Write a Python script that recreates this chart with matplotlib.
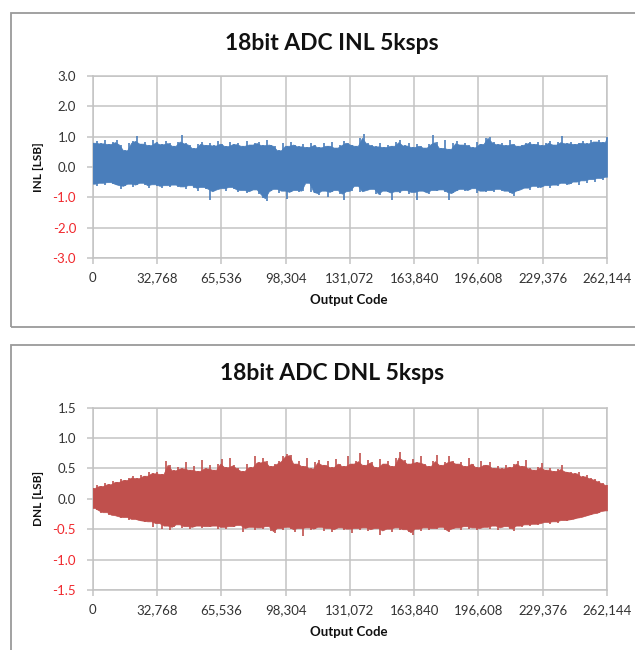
import numpy as np
import matplotlib
matplotlib.use("Agg")
import matplotlib.pyplot as plt
from matplotlib.patches import Rectangle
from matplotlib.ticker import FuncFormatter

inl_upper = [
    0.80, 0.85, 0.78, 0.90, 0.76, 0.82, 0.88, 0.74, 0.55, 0.80, 0.86, 1.02, 0.77, 0.84, 0.72, 0.88,
    0.81, 0.75, 0.86, 0.79, 0.70, 0.84, 1.07, 0.78, 0.74, 0.62, 0.76, 0.82, 0.73, 0.80, 0.71, 0.86,
    0.77, 0.69, 0.84, 0.75, 0.80, 0.70, 0.86, 0.74, 0.79, 0.83, 0.72, 0.88, 0.74, 0.70, 0.55, 0.78,
    0.70, 0.82, 0.74, 0.68, 0.76, 0.66, 0.80, 0.72, 0.65, 0.78, 0.70, 0.84, 0.64, 0.73, 0.86, 0.80,
    0.74, 0.70, 0.96, 1.10, 0.78, 0.72, 0.68, 0.80, 0.66, 0.74, 0.70, 0.82, 0.88, 0.71, 0.78, 0.66,
    0.75, 0.70, 0.64, 0.76, 1.07, 0.82, 0.63, 0.90, 0.60, 0.78, 0.85, 0.74, 0.80, 0.72, 0.65, 0.84,
    0.76, 0.96, 1.00, 0.82, 0.75, 0.78, 0.72, 0.88, 0.76, 0.70, 0.74, 0.79, 0.82, 0.76, 0.84, 0.72,
    0.80, 0.86, 0.74, 0.82, 1.02, 0.78, 0.84, 0.76, 0.80, 0.86, 0.78, 0.88, 0.84, 0.90, 0.82, 1.00,
]
inl_lower = [
    -0.55, -0.64, -0.52, -0.58, -0.50, -0.56, -0.60, -0.73, -0.62, -0.55, -0.66, -0.58, -0.52, -0.60, -0.68, -0.57,
    -0.62, -0.70, -0.60, -0.66, -0.58, -0.65, -0.64, -0.72, -0.60, -0.68, -0.80, -0.66, -0.72, -1.08, -0.80, -0.74,
    -0.70, -0.78, -0.66, -0.74, -0.84, -0.76, -0.86, -0.80, -0.74, -0.90, -1.03, -1.13, -0.80, -0.72, -0.86, -0.78,
    -1.06, -0.82, -0.76, -0.84, -0.78, -0.52, -0.82, -0.86, -0.92, -0.78, -1.00, -0.82, -0.76, -0.88, -1.10, -0.80,
    -0.78, -0.62, -0.84, -0.80, -0.76, -0.72, -0.88, -0.92, -0.78, -0.84, -1.08, -0.80, -0.86, -0.76, -0.88, -0.82,
    -1.08, -0.78, -0.84, -0.90, -0.76, -0.80, -0.74, -0.82, -1.08, -0.86, -0.78, -0.72, -0.80, -0.76, -0.70, -0.86,
    -0.78, -0.82, -0.76, -0.84, -0.72, -0.80, -0.78, -0.86, -0.97, -0.78, -0.74, -0.68, -0.76, -0.62, -0.70, -0.66,
    -0.60, -0.68, -0.58, -0.64, -0.52, -0.60, -0.55, -0.48, -0.58, -0.44, -0.52, -0.40, -0.48, -0.36, -0.42, -0.32,
]
dnl_upper = [
    0.18, 0.22, 0.21, 0.26, 0.24, 0.29, 0.28, 0.33, 0.31, 0.35, 0.37, 0.34, 0.40, 0.38, 0.45, 0.42,
    0.44, 0.41, 0.62, 0.56, 0.47, 0.52, 0.50, 0.60, 0.48, 0.54, 0.46, 0.64, 0.50, 0.56, 0.48, 0.58,
    0.66, 0.52, 0.67, 0.55, 0.50, 0.46, 0.58, 0.52, 0.70, 0.60, 0.68, 0.62, 0.54, 0.58, 0.62, 0.70,
    0.73, 0.72, 0.58, 0.62, 0.54, 0.67, 0.50, 0.60, 0.64, 0.56, 0.62, 0.52, 0.66, 0.58, 0.54, 0.70,
    0.58, 0.62, 0.75, 0.56, 0.64, 0.60, 0.52, 0.66, 0.58, 0.62, 0.54, 0.68, 0.77, 0.64, 0.58, 0.66,
    0.60, 0.71, 0.58, 0.54, 0.62, 0.72, 0.56, 0.60, 0.71, 0.62, 0.58, 0.60, 0.54, 0.67, 0.58, 0.52,
    0.63, 0.56, 0.60, 0.51, 0.54, 0.50, 0.56, 0.52, 0.58, 0.62, 0.54, 0.64, 0.50, 0.48, 0.52, 0.59,
    0.48, 0.50, 0.46, 0.49, 0.55, 0.45, 0.44, 0.42, 0.44, 0.37, 0.40, 0.34, 0.32, 0.29, 0.26, 0.23,
]
dnl_lower = [
    -0.15, -0.19, -0.23, -0.22, -0.26, -0.27, -0.29, -0.31, -0.30, -0.34, -0.33, -0.35, -0.36, -0.38, -0.37, -0.46,
    -0.40, -0.50, -0.44, -0.51, -0.46, -0.42, -0.48, -0.45, -0.50, -0.46, -0.44, -0.48, -0.45, -0.47, -0.44, -0.49,
    -0.46, -0.50, -0.45, -0.47, -0.43, -0.55, -0.48, -0.46, -0.52, -0.47, -0.49, -0.45, -0.53, -0.57, -0.48, -0.51,
    -0.46, -0.50, -0.54, -0.48, -0.61, -0.47, -0.52, -0.49, -0.46, -0.53, -0.48, -0.55, -0.50, -0.47, -0.52, -0.49,
    -0.56, -0.48, -0.51, -0.47, -0.53, -0.50, -0.48, -0.60, -0.52, -0.49, -0.54, -0.47, -0.52, -0.50, -0.55, -0.60,
    -0.49, -0.53, -0.47, -0.51, -0.48, -0.50, -0.46, -0.52, -0.55, -0.49, -0.47, -0.51, -0.45, -0.50, -0.47, -0.52,
    -0.48, -0.46, -0.50, -0.44, -0.51, -0.47, -0.45, -0.49, -0.53, -0.44, -0.46, -0.42, -0.45, -0.41, -0.43, -0.40,
    -0.38, -0.41, -0.37, -0.39, -0.35, -0.36, -0.34, -0.33, -0.31, -0.30, -0.28, -0.26, -0.24, -0.23, -0.20, -0.19,
]

x_ticks = [0, 32768, 65536, 98304, 131072, 163840, 196608, 229376, 262144]
inl_yticks = [3.0, 2.0, 1.0, 0.0, -1.0, -2.0, -3.0]
dnl_yticks = [1.5, 1.0, 0.5, 0.0, -0.5, -1.0, -1.5]

W, H = 635, 650
GRID = "#c3c3c3"
FONT = "Lato"

fig = plt.figure(figsize=(W / 100, H / 100), dpi=100)
fig.patch.set_facecolor("white")


def fx(px):
    return px / W


def fy(py):
    return 1 - py / H


# chart area frames (right side runs off the picture)
for top, bottom in [(13, 327), (345, 665)]:
    fig.patches.append(Rectangle((fx(11), fy(bottom)), fx(640) - fx(11), fy(top) - fy(bottom),
                                 transform=fig.transFigure, fill=False,
                                 edgecolor="#9a9a9a", linewidth=1.3))


def draw_panel(top, bottom, upper, lower, yticks, color, title, ylabel, title_y, xlabel_y):
    ax = fig.add_axes([fx(92.7), fy(bottom), fx(607) - fx(92.7), fy(top) - fy(bottom)])
    upper = np.array(upper)
    lower = np.array(lower)
    n = len(upper)
    xs = np.linspace(x_ticks[0], x_ticks[-1], n)

    # solid core between bins: the level both neighbouring bins reach
    xm = np.concatenate([xs[:1], (xs[:-1] + xs[1:]) / 2, xs[-1:]])
    core_hi = np.concatenate([upper[:1], np.minimum(upper[:-1], upper[1:]), upper[-1:]])
    core_lo = np.concatenate([lower[:1], np.maximum(lower[:-1], lower[1:]), lower[-1:]])
    ax.fill_between(xm, core_lo, core_hi, color=color, linewidth=0.5, edgecolor=color, zorder=3)
    # thin strokes for each bin's full swing
    ax.vlines(xs, lower, upper, color=color, linewidth=1.2, zorder=3)

    ax.set_xlim(x_ticks[0], x_ticks[-1])
    ax.set_ylim(yticks[-1], yticks[0])
    ax.set_xticks(x_ticks)
    ax.set_yticks(yticks)
    ax.xaxis.set_major_formatter(FuncFormatter(lambda v, p: f"{int(round(v)):,}"))
    ax.yaxis.set_major_formatter(FuncFormatter(lambda v, p: f"{v:.1f}"))
    ax.grid(True, color=GRID, linewidth=1.1, zorder=0)
    ax.set_axisbelow(True)
    for s in ax.spines.values():
        s.set_color(GRID)
        s.set_linewidth(1.1)
    ax.tick_params(axis="both", direction="out", length=4, width=1.1, color=GRID,
                   labelsize=9.5, labelcolor="#333333")
    ax.tick_params(axis="y", pad=8)
    ax.tick_params(axis="x", pad=6)
    for lab in ax.get_xticklabels() + ax.get_yticklabels():
        lab.set_fontfamily(FONT)
    for t, v in zip(ax.yaxis.get_major_ticks(), yticks):
        if v < 0:
            t.label1.set_color("#f0282d")

    fig.text(fx(332), fy(title_y), title, ha="center", va="center",
             fontsize=16.5, fontweight="bold", fontfamily=FONT, color="#111111")
    fig.text(fx(349), fy(xlabel_y), "Output Code", ha="center", va="center",
             fontsize=9.5, fontweight="bold", fontfamily=FONT, color="#111111")
    fig.text(fx(39), fy((top + bottom) / 2), ylabel, ha="center", va="center", rotation=90,
             fontsize=8.5, fontweight="bold", fontfamily=FONT, color="#111111")
    return ax


draw_panel(76, 258, inl_upper, inl_lower, inl_yticks, "#4a7ebb",
           "18bit ADC INL 5ksps", "INL [LSB]", 44, 300)
draw_panel(407.7, 590, dnl_upper, dnl_lower, dnl_yticks, "#c0504d",
           "18bit ADC DNL 5ksps", "DNL [LSB]", 374, 632)

fig.savefig("out.png", dpi=100, facecolor="white")
